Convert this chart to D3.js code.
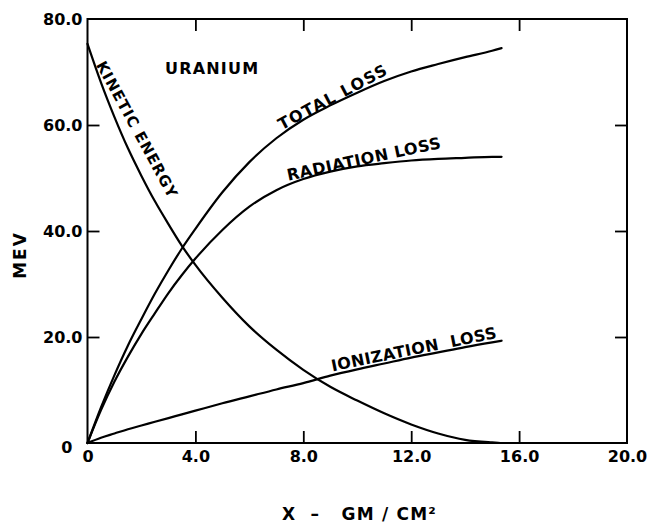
<!DOCTYPE html>
<html>
<head>
<meta charset="utf-8">
<script src="https://cdn.jsdelivr.net/npm/d3@7"></script>
<style>
  html, body { margin: 0; padding: 0; background: #fff; }
  svg { display: block; }
  text { font-family: "DejaVu Sans", sans-serif; font-weight: bold; fill: #000; }
</style>
</head>
<body>
<svg id="chart" width="653" height="525"></svg>
<script>
// Energy of a 75 MeV electron penetrating uranium (MeV vs. thickness in g/cm²)
const depth = [0, 0.5, 1, 1.5, 2, 2.5, 3, 3.5, 4, 5, 6, 7, 8, 9, 10, 11, 12, 13, 14, 15, 15.35];
const totalLoss = [0, 6.7, 12.8, 18.4, 23.4, 28.2, 32.6, 36.7, 40.4, 47.3, 53.0, 57.5, 61.0, 63.7, 66.1, 68.3, 70.1, 71.5, 72.8, 74.0, 74.5];
const radiationLoss = [0, 6.2, 11.6, 16.3, 20.6, 24.5, 28.3, 31.7, 34.8, 40.2, 44.6, 47.7, 49.8, 51.2, 52.2, 52.8, 53.3, 53.6, 53.8, 54.0, 54.0];
const ionizationLoss = [0, 1.0, 1.8, 2.6, 3.3, 4.0, 4.7, 5.4, 6.1, 7.5, 8.8, 10.1, 11.3, 12.7, 13.9, 15.0, 16.1, 17.1, 18.1, 19.0, 19.3];

const keDepth = [0, 0.5, 1, 1.5, 2, 2.5, 3, 3.5, 4, 5, 6, 7, 8, 9, 10, 11, 12, 13, 14, 15, 15.3];
const kineticEnergy = [75.3, 68.0, 61.5, 55.6, 50.4, 45.6, 41.3, 37.2, 33.6, 27.4, 22.0, 17.6, 13.8, 10.6, 8.0, 5.6, 3.5, 1.8, 0.6, 0.1, 0];

const xTicks = [0, 4, 8, 12, 16, 20];
const yTicks = [0, 20, 40, 60, 80];
const xTickLabels = ["0", "4.0", "8.0", "12.0", "16.0", "20.0"];
const yTickLabels = ["0", "20.0", "40.0", "60.0", "80.0"];

// Curve annotations: text, anchor in data units, rotation in degrees
const curveLabels = [
  { text: "URANIUM",        x: 4.62, y: 70.6, angle: 0,     size: 16, spacing: 1.2 },
  { text: "KINETIC ENERGY", x: 1.83, y: 59.1, angle: 61.4,  size: 15, spacing: 1.0 },
  { text: "TOTAL LOSS",     x: 9.1,  y: 65.3, angle: -28,   size: 16, spacing: 1.4 },
  { text: "RADIATION LOSS", x: 10.25,y: 53.6, angle: -12,   size: 16, spacing: 0.5 },
  { text: "IONIZATION  LOSS", x: 12.1, y: 17.7, angle: -11.5, size: 16, spacing: 0.4 }
];

const svg = d3.select("#chart");
const plotLeft = 87.5, plotRight = 627, plotTop = 19, plotBottom = 443;

const x = d3.scaleLinear().domain([0, 20]).range([plotLeft, plotRight]);
const y = d3.scaleLinear().domain([0, 80]).range([plotBottom, plotTop]);

// Frame
svg.append("rect")
  .attr("x", plotLeft).attr("y", plotTop)
  .attr("width", plotRight - plotLeft).attr("height", plotBottom - plotTop)
  .attr("fill", "none").attr("stroke", "#000").attr("stroke-width", 2);

function styleAxis(g) {
  g.select(".domain").remove();
  g.selectAll(".tick line").attr("stroke", "#000").attr("stroke-width", 1.8);
  g.selectAll(".tick text").attr("font-size", 16).attr("font-family", "DejaVu Sans").attr("font-weight", "bold");
}

// Bottom axis with inward ticks
svg.append("g")
  .attr("transform", `translate(0,${plotBottom})`)
  .call(d3.axisBottom(x).tickValues(xTicks).tickSize(-12).tickPadding(8)
    .tickFormat((d, i) => xTickLabels[i]))
  .call(styleAxis)
  .call(g => g.selectAll(".tick line").filter(d => d === 0 || d === 20).remove());

// Left axis with inward ticks
svg.append("g")
  .attr("transform", `translate(${plotLeft},0)`)
  .call(d3.axisLeft(y).tickValues(yTicks).tickSize(-12).tickPadding(5)
    .tickFormat((d, i) => yTickLabels[i]))
  .call(styleAxis)
  .call(g => g.selectAll(".tick line").filter(d => d === 0 || d === 80).remove())
  .call(g => g.selectAll(".tick text").filter(d => d === 0)
    .attr("x", -15).attr("dy", "0.62em"));

// Top and right axes: ticks only
svg.append("g")
  .attr("transform", `translate(0,${plotTop})`)
  .call(d3.axisTop(x).tickValues(xTicks.slice(1, -1)).tickSize(-12).tickFormat(""))
  .call(styleAxis);

svg.append("g")
  .attr("transform", `translate(${plotRight},0)`)
  .call(d3.axisRight(y).tickValues(yTicks.slice(1, -1)).tickSize(-12).tickFormat(""))
  .call(styleAxis);

// Curves
const line = d3.line().x(d => x(d[0])).y(d => y(d[1])).curve(d3.curveMonotoneX);
const series = [
  d3.zip(depth, totalLoss),
  d3.zip(depth, radiationLoss),
  d3.zip(depth, ionizationLoss),
  d3.zip(keDepth, kineticEnergy)
];
svg.append("g").selectAll("path")
  .data(series)
  .join("path")
  .attr("d", line)
  .attr("fill", "none")
  .attr("stroke", "#000")
  .attr("stroke-width", 2.2)
  .attr("stroke-linejoin", "round")
  .attr("stroke-linecap", "round");

// Curve annotations
svg.append("g").selectAll("text")
  .data(curveLabels)
  .join("text")
  .attr("transform", d => `translate(${x(d.x)},${y(d.y)}) rotate(${d.angle})`)
  .attr("text-anchor", "middle")
  .attr("dominant-baseline", "central")
  .attr("font-size", d => d.size)
  .attr("letter-spacing", d => d.spacing)
  .style("white-space", "pre")
  .text(d => d.text);

// Axis titles
svg.append("text")
  .attr("transform", "translate(26,255) rotate(-90)")
  .attr("text-anchor", "middle")
  .attr("font-size", 17)
  .attr("letter-spacing", 2)
  .text("MEV");

svg.append("text")
  .attr("x", 282).attr("y", 520)
  .attr("font-size", 17)
  .attr("letter-spacing", 1.2)
  .style("white-space", "pre")
  .text("X  –   GM / CM²");
</script>
</body>
</html>
